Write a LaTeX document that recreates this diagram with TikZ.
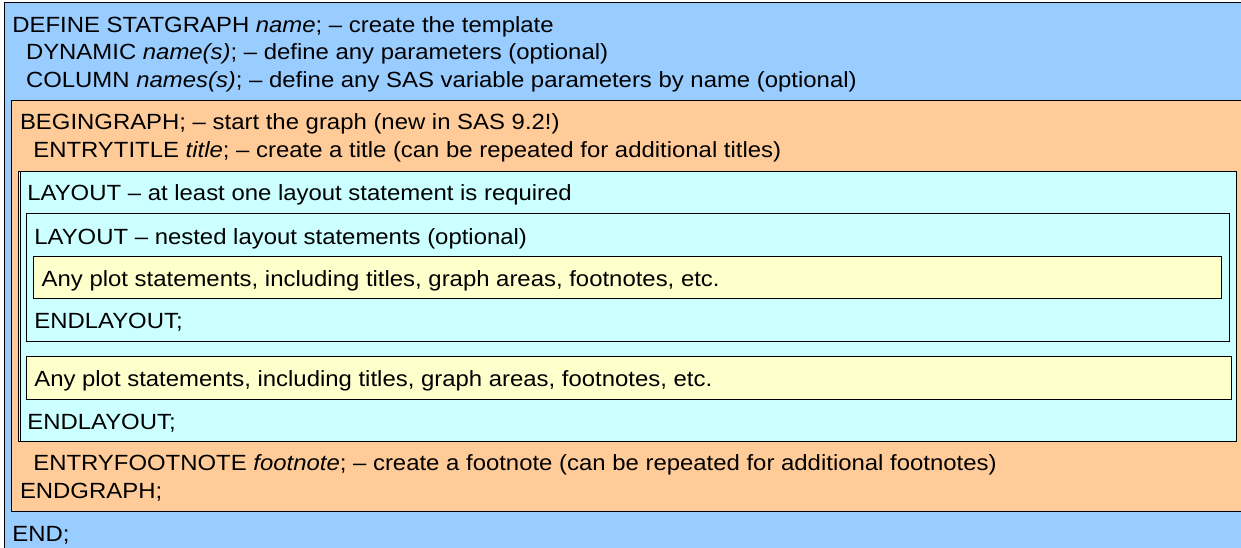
\documentclass[tikz,border=0pt]{standalone}
\usepackage{fontspec}
\setmainfont{Liberation Sans}[FakeStretch=1.087]
\definecolor{sasblue}{HTML}{99CCFF}
\definecolor{sasorange}{HTML}{FFCC99}
\definecolor{sascyan}{HTML}{CCFFFF}
\definecolor{sasyellow}{HTML}{FFFFCC}
\tikzset{
  box/.style={draw=black, line width=0.9pt},
  txt/.style={anchor=base west, inner sep=0pt, outer sep=0pt, font=\fontsize{22}{26}\selectfont, text=black}
}
\begin{document}
\begin{tikzpicture}[x=1pt,y=-1pt]
\clip (0,0) rectangle (1241,548);
\fill[white] (0,0) rectangle (1241,548);
% outer blue (statgraph)
\path[box, fill=sasblue] (4.7,2.4) rectangle (1250,560);
% orange (graph)
\path[box, fill=sasorange] (11.3,100.3) rectangle (1250,511);
% cyan (layout)
\path[box, fill=sascyan] (18.4,171.6) rectangle (1236.3,441);
\draw[line width=0.9pt] (20.3,171.6) -- (20.3,441);
% nested layout
\path[box, fill=sascyan] (26.2,213.4) rectangle (1229.3,341.4);
% plot statements (nested)
\path[box, fill=sasyellow] (33.4,256.5) rectangle (1221.7,298.4);
% plot statements
\path[box, fill=sasyellow] (26.3,356.4) rectangle (1231.7,399.4);
% texts
\node[txt] (define) at (12.3,32.7) {DEFINE STATGRAPH \textit{name}; – create the template};
\node[txt] (dynamic) at (26,59.5) {DYNAMIC \textit{name(s)}; – define any parameters (optional)};
\node[txt] (column) at (26,87.2) {COLUMN \textit{names(s)}; – define any SAS variable parameters by name (optional)};
\node[txt] (begingraph) at (20,130) {BEGINGRAPH; – start the graph (new in SAS 9.2!)};
\node[txt] (entrytitle) at (33.3,157.3) {ENTRYTITLE \textit{title}; – create a title (can be repeated for additional titles)};
\node[txt] (layout) at (27.3,200.7) {LAYOUT – at least one layout statement is required};
\node[txt] (nlayout) at (34.3,244) {LAYOUT – nested layout statements (optional)};
\node[txt] (plot1) at (41.7,286) {Any plot statements, including titles, graph areas, footnotes, etc.};
\node[txt] (nendlayout) at (34.3,328.3) {ENDLAYOUT;};
\node[txt] (plot2) at (34.3,386.7) {Any plot statements, including titles, graph areas, footnotes, etc.};
\node[txt] (endlayout) at (27.3,429) {ENDLAYOUT;};
\node[txt] (footnote) at (33.3,470.7) {ENTRYFOOTNOTE \textit{footnote}; – create a footnote (can be repeated for additional footnotes)};
\node[txt] (endgraph) at (20,498.3) {ENDGRAPH;};
\node[txt] (end) at (12.3,541.7) {END;};
\end{tikzpicture}
\end{document}
